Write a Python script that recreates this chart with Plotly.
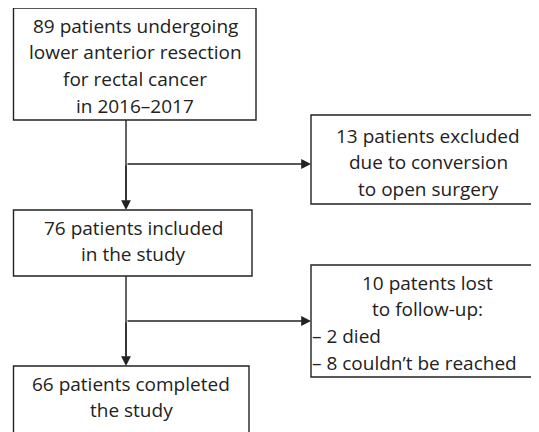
import plotly.graph_objects as go

# ---- content (texts) ----
start_lines = ["89 patients undergoing", "lower anterior resection", "for rectal cancer", "in 2016–2017"]
excluded_lines = ["13 patients excluded", "due to conversion", "to open surgery"]
included_lines = ["76 patients included", "in the study"]
lost_lines = ["10 patents lost", "to follow-up:"]
lost_items = ["– 2 died", "– 8 couldn’t be reached"]
completed_lines = ["66 patients completed", "the study"]

# ---- layout geometry (window pixel coordinates) ----
W, H = 539, 432
OFF = 8  # page body margin
boxes = {
    "start": dict(x0=13.5, x1=256, y0=8, y1=120),
    "excluded": dict(x0=311, x1=545, y0=115, y1=204),
    "included": dict(x0=13.5, x1=252, y0=210, y1=276),
    "lost": dict(x0=311, x1=545, y0=265, y1=377),
    "completed": dict(x0=13.5, x1=249, y0=366, y1=445),
}
line_color = "#222222"
text_color = "#222222"
font = dict(family="Open Sans", size=19, color=text_color)
LH = 26.8

fig = go.Figure()
fig.add_trace(go.Scatter(x=[OFF, W + OFF], y=[OFF, H + OFF], mode="markers", marker=dict(opacity=0),
                         hoverinfo="skip", showlegend=False))

shapes = []
for b in boxes.values():
    shapes.append(dict(type="rect", xref="x", yref="y", line=dict(color=line_color, width=1.4),
                       fillcolor="rgba(0,0,0,0)", **b))

annotations = []

def add_lines(lines, cx, y_first, anchor="center"):
    for i, t in enumerate(lines):
        annotations.append(dict(x=cx, y=y_first + i * LH, xref="x", yref="y", text=t, showarrow=False,
                                font=font, xanchor=anchor, yanchor="middle"))

add_lines(start_lines, 135, 25.5)
add_lines(excluded_lines, 428, 135.5)
add_lines(included_lines, 133, 227.5)
add_lines(lost_lines, 427, 282.5)
add_lines(lost_items, 310, 336, anchor="left")
add_lines(completed_lines, 131, 383.5)

# connectors
cx = 126
shapes.append(dict(type="line", xref="x", yref="y", x0=cx, x1=cx, y0=120, y1=200, line=dict(color=line_color, width=1.4)))
shapes.append(dict(type="line", xref="x", yref="y", x0=cx, x1=cx, y0=276, y1=356, line=dict(color=line_color, width=1.4)))

arrows = [
    (cx, 164, cx, 210),     # down into included
    (cx, 164, 311, 164),    # right to excluded
    (cx, 321, cx, 366),     # down into completed
    (cx, 321, 311, 321),    # right to lost
]
for ax_, ay_, x_, y_ in arrows:
    annotations.append(dict(x=x_, y=y_, ax=ax_, ay=ay_, xref="x", yref="y", axref="x", ayref="y",
                            text="", showarrow=True, arrowhead=2, arrowsize=1.4, arrowwidth=1.4,
                            arrowcolor=line_color, standoff=0, startstandoff=0))

fig.update_layout(
    width=W, height=H, margin=dict(l=0, r=0, t=0, b=0),
    paper_bgcolor="white", plot_bgcolor="white",
    xaxis=dict(range=[OFF, W + OFF], visible=False, fixedrange=True),
    yaxis=dict(range=[H + OFF, OFF], visible=False, fixedrange=True),
    shapes=shapes, annotations=annotations, showlegend=False,
)
fig.write_html("out.html")
